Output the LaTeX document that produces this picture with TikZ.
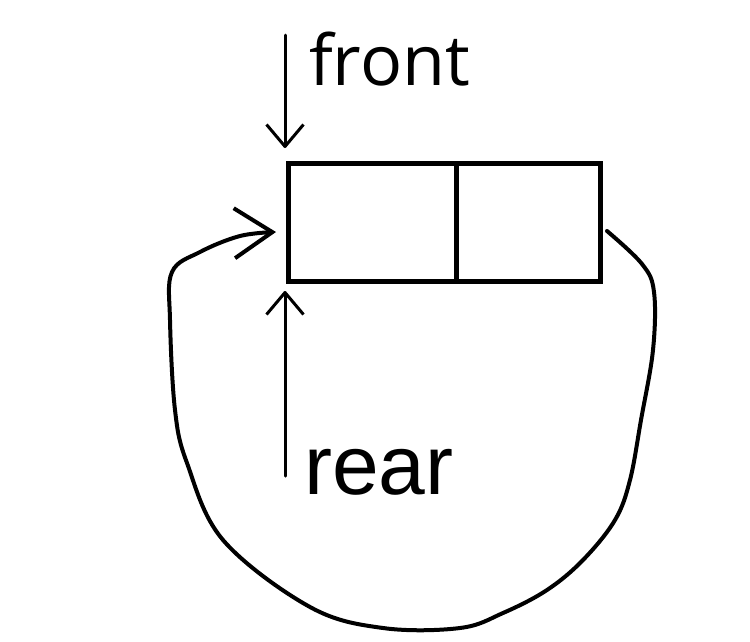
\documentclass[tikz,border=0pt]{standalone}
\usepackage{fontspec}
\setmainfont{Liberation Sans}
\newfontfamily\frontfont{Open Sans}
\usetikzlibrary{positioning, arrows.meta}
\tikzset{
    cell/.style={draw, line width=5pt, minimum height=118pt, inner sep=0pt, outer sep=0pt},
    pointer/.style={line width=3pt, line cap=round, -{Straight Barb[length=22pt, width=37pt, line join=round]}},
    wrap/.style={line width=4pt, line cap=round, line join=round, -{Straight Barb[length=38pt, width=50pt]}}
}
\begin{document}
\begin{tikzpicture}[x=1pt, y=-1pt]
        \useasboundingbox (0,0) rectangle (750,641);

        % Queue cells
        \node[cell, minimum width=168pt, anchor=north west] (cellA) at (288,163) {};
        \node[cell, minimum width=144pt, anchor=west] (cellB) at (cellA.east) {};

        % Labels
        \node[anchor=base west, inner sep=0pt, font=\frontfont\fontsize{70}{80}\selectfont] (front) at (309,85) {front};
        \node[anchor=base west, inner sep=0pt, font=\fontsize{84}{96}\selectfont] (rear) at (304,494) {rear};

        % Pointers
        \coordinate (frontTail) at (285,35);
        \coordinate (frontHead) at (285,148);
        \coordinate (rearTail) at (285,476);
        \coordinate (rearHead) at (285,291);
        \draw[pointer] (frontTail) -- (frontHead);
        \draw[pointer] (rearTail) -- (rearHead);

        % Wrap-around loop
        \coordinate (loopStart) at (607,231);
        \coordinate (loopEnd) at (276,232);
        \draw[wrap] plot[smooth, tension=0.6] coordinates {(loopStart) (642,264) (654,292) (653,350)
            (641,420) (630,480) (615,520) (583,560) (547,590) (503,613) (460,628) (383,628)
            (310,607) (223,540) (187,463) (175,410) (170,320) (172,272) (200,252) (240,236) (loopEnd)};
    \end{tikzpicture}
\end{document}
